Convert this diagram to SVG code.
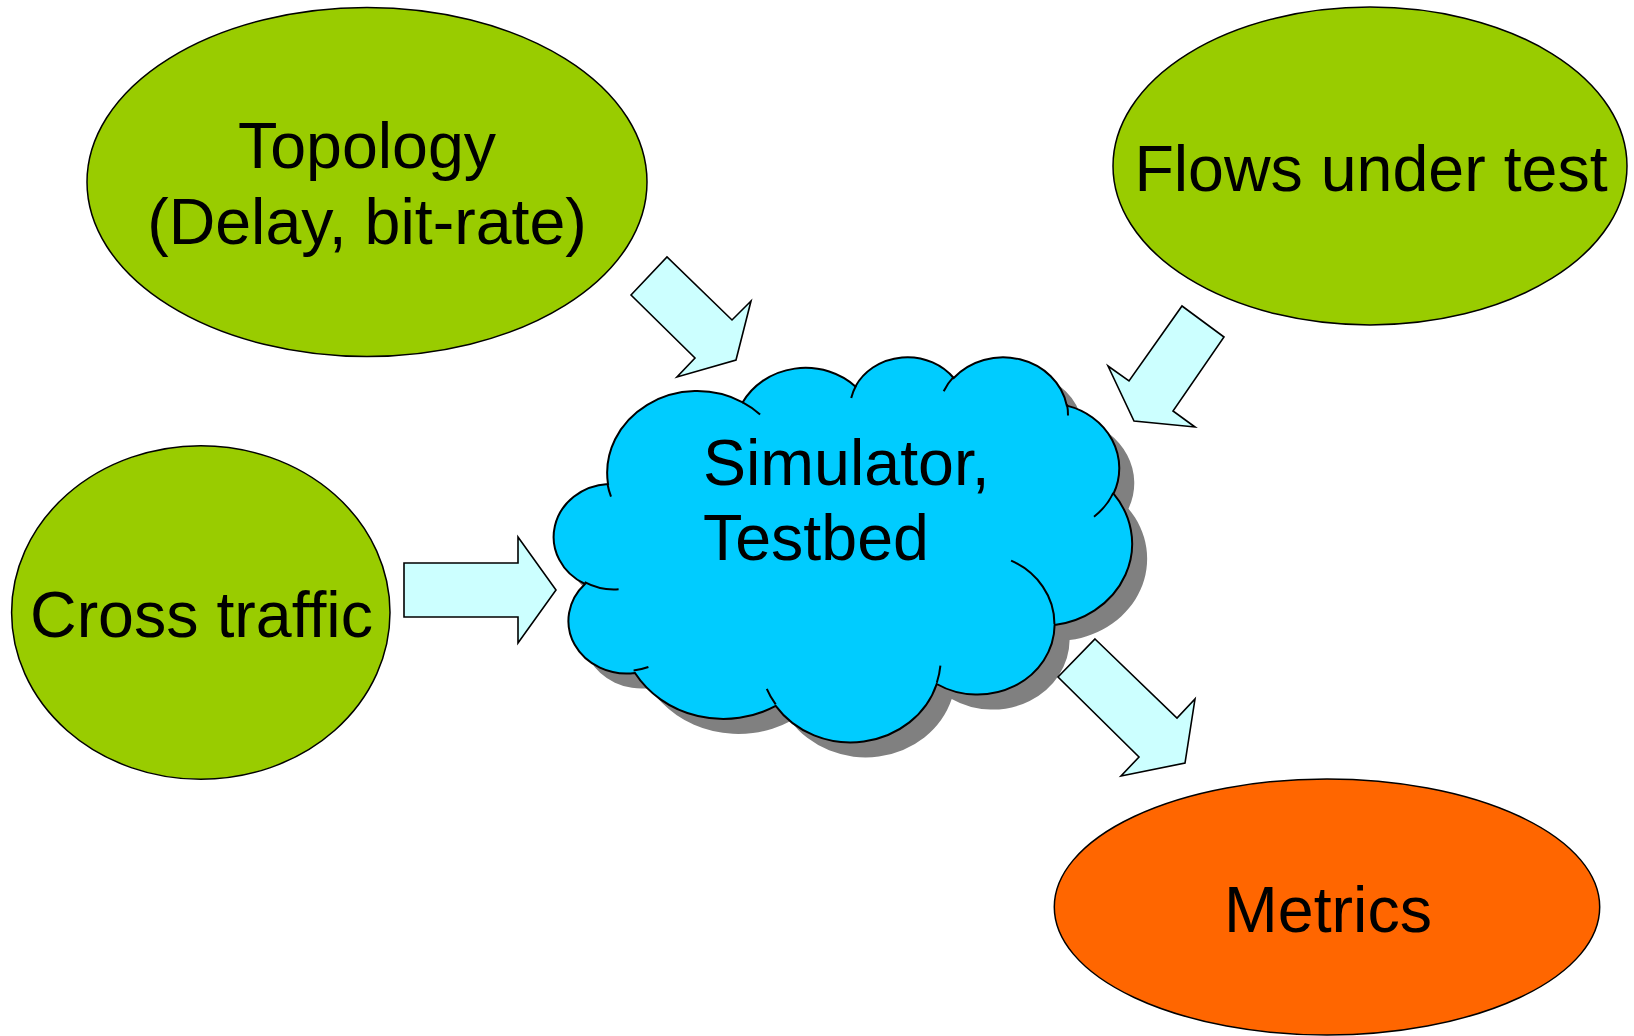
<svg xmlns="http://www.w3.org/2000/svg" width="1634" height="1036" viewBox="0 0 1634 1036">
<style>
.lbl{font-family:"Liberation Sans",Arial,sans-serif;font-size:64.5px;fill:#000}
.green{fill:#99CC00;stroke:#000;stroke-width:1.5}
.orange{fill:#FF6600;stroke:#000;stroke-width:1.5}
.arrow{fill:#CCFFFF;stroke:#000;stroke-width:1.6;stroke-linejoin:miter}
.cloud{fill:#00CCFF;stroke:#000;stroke-width:2}
.inner{fill:none;stroke:#000;stroke-width:2}
</style>
<defs>
<path id="cloudShape" d="M 608,484 A 90 81.9 0 0 1 742.7,402.3 A 71.1 64.8 0 0 1 855.4,386.5 A 58.2 53 0 0 1 953.7,378 A 64.8 58.8 0 0 1 1066.8,405.6 A 71.1 64.8 0 0 1 1113.5,493.7 A 90.3 82.2 0 0 1 1054.6,625.1 A 77.1 70.1 0 0 1 936.7,684 A 90 82.1 0 0 1 775.7,705.9 A 102.9 94 0 0 1 635,673 A 58.1 52.7 0 0 1 585,584 A 57.9 53 0 0 1 608,484 Z"/>
</defs>
<g id="topology">
<ellipse class="green" cx="367" cy="182" rx="280" ry="174.5"/>
<text class="lbl" x="367" y="168" text-anchor="middle">Topology</text>
<text class="lbl" x="367" y="244" text-anchor="middle">(Delay, bit-rate)</text>
</g>
<g id="flows">
<ellipse class="green" cx="1370" cy="166" rx="257" ry="159"/>
<text class="lbl" x="1371" y="190.5" text-anchor="middle">Flows under test</text>
</g>
<g id="cross">
<ellipse class="green" cx="200.8" cy="612.5" rx="189.2" ry="166.8"/>
<text class="lbl" x="201.5" y="637" text-anchor="middle">Cross traffic</text>
</g>
<g id="metrics">
<ellipse class="orange" cx="1327" cy="907" rx="272.7" ry="128"/>
<text class="lbl" x="1328" y="931.5" text-anchor="middle">Metrics</text>
</g>
<g id="simulator">
<use href="#cloudShape" fill="#808080" transform="translate(15,15)"/>
<use href="#cloudShape" class="cloud"/>
<path class="inner" d="M 618.6,589.3 A 57.9 53 0 0 1 584.7,582.2"/>
<path class="inner" d="M 648.4,667 A 58.1 52.7 0 0 1 633.6,670.4"/>
<path class="inner" d="M 775.7,704.4 A 90 82.1 0 0 1 766.8,688.8"/>
<path class="inner" d="M 940.4,665.7 A 90 82.1 0 0 1 936.8,682.7"/>
<path class="inner" d="M 1011.1,560.6 A 77.1 70.1 0 0 1 1054.4,624"/>
<path class="inner" d="M 1113.3,492.8 A 71.1 64.8 0 0 1 1094,516.7"/>
<path class="inner" d="M 1067,404.4 A 64.8 58.8 0 0 1 1068,415.6"/>
<path class="inner" d="M 943.7,391.2 A 64.8 58.8 0 0 1 953.6,376.9"/>
<path class="inner" d="M 851.2,398.1 A 58.2 53 0 0 1 856,385.7"/>
<path class="inner" d="M 742.7,402.3 A 90 81.9 0 0 1 760.1,414.4"/>
<path class="inner" d="M 611,496.7 A 90 81.9 0 0 1 607.5,484"/>
<text class="lbl" x="703" y="485">Simulator,</text>
<text class="lbl" x="703" y="560">Testbed</text>
</g>
<g id="connectors">
<polygon class="arrow" points="631,295 667,257 732,320 751,301 736,360 677,377 695,358"/>
<polygon class="arrow" points="1182,306 1224,337 1173,411 1195,427 1134,421 1108,366 1129,381"/>
<polygon class="arrow" points="404,563 518,563 518,537 556,590 518,643 518,617 404,617"/>
<polygon class="arrow" points="1095,639 1177,718 1195,699 1185,763 1121,776 1139,757 1058,677"/>
</g>
</svg>
